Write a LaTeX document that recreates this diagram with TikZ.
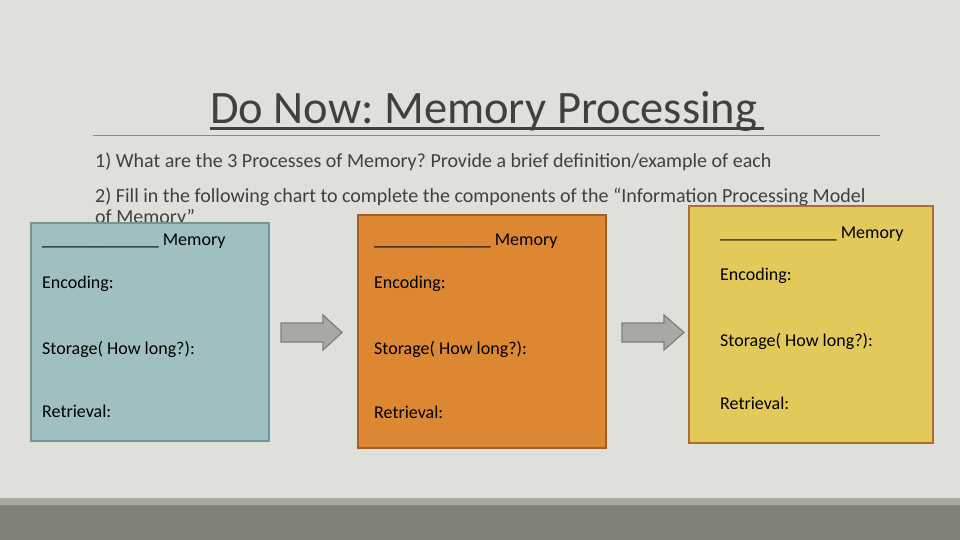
\documentclass[tikz,border=0pt]{standalone}
\usepackage{fontspec}
\setmainfont{Carlito}
\frenchspacing
\definecolor{bg}{RGB}{224,224,218}
\definecolor{bandlight}{RGB}{170,170,165}
\definecolor{banddark}{RGB}{128,130,122}
\definecolor{titlecol}{RGB}{64,64,64}
\definecolor{rulecol}{RGB}{140,140,135}
\definecolor{tealfill}{RGB}{159,191,192}
\definecolor{tealline}{RGB}{118,148,150}
\definecolor{orangefill}{RGB}{221,135,50}
\definecolor{orangeline}{RGB}{160,95,40}
\definecolor{yellowfill}{RGB}{227,201,90}
\definecolor{yellowline}{RGB}{170,110,50}
\definecolor{arrowfill}{RGB}{168,168,165}
\definecolor{arrowline}{RGB}{125,125,125}
\tikzset{
  bodytext/.style={anchor=base west, inner sep=0pt, text=titlecol, font=\fontsize{20}{24}\selectfont},
  boxtext/.style={anchor=base west, inner sep=0pt, text=black, font=\fontsize{18}{21}\selectfont},
  memorybox/.style={line width=2pt},
  blockarrow/.style={fill=arrowfill, draw=arrowline, line width=1.2pt, line join=miter}
}
\begin{document}
\begin{tikzpicture}[x=1pt,y=-1pt]
\useasboundingbox (0,0) rectangle (960,540);
\fill[bg] (0,0) rectangle (960,540);
\fill[bandlight] (0,498) rectangle (960,540);
\fill[banddark] (0,505) rectangle (960,540);
% title
\node[anchor=base west, inner sep=0pt, text=titlecol, font=\fontsize{46.5}{50}\selectfont] (title) at (210,124) {Do Now: Memory Processing};
\draw[titlecol, line width=3pt] (210,128.5) -- (764,128.5);
\draw[rulecol, line width=1pt] (93,136) -- (880,136);
% questions
\node[bodytext] (q1) at (95,167.5) {1) What are the 3 Processes of Memory? Provide a brief definition/example of each};
\node[bodytext] (q2) at (95,202.5) {2) Fill in the following chart to complete the components of the “Information Processing Model};
\node[bodytext] (q2b) at (95,223) {of Memory”};
% boxes
\draw[memorybox, fill=tealfill, draw=tealline] (31,223) rectangle (269,441);
\draw[memorybox, fill=orangefill, draw=orangeline] (358,215) rectangle (606,448);
\draw[memorybox, fill=yellowfill, draw=yellowline] (689,206) rectangle (933,443);
% box 1
\node[boxtext] (m1) at (42,245) {\_\_\_\_\_\_\_\_\_\_\_\_\_ Memory};
\node[boxtext] (e1) at (42,288) {Encoding:};
\node[boxtext] (s1) at (42,354) {Storage( How long?):};
\node[boxtext] (r1) at (42,417) {Retrieval:};
% box 2
\node[boxtext] (m2) at (374,245) {\_\_\_\_\_\_\_\_\_\_\_\_\_ Memory};
\node[boxtext] (e2) at (374,288) {Encoding:};
\node[boxtext] (s2) at (374,354) {Storage( How long?):};
\node[boxtext] (r2) at (374,418) {Retrieval:};
% box 3
\node[boxtext] (m3) at (720,238) {\_\_\_\_\_\_\_\_\_\_\_\_\_ Memory};
\node[boxtext] (e3) at (720,280) {Encoding:};
\node[boxtext] (s3) at (720,346) {Storage( How long?):};
\node[boxtext] (r3) at (720,409) {Retrieval:};
% arrows
\draw[blockarrow] (281,323) -- (323,323) -- (323,315) -- (342,332.5) -- (323,350) -- (323,342) -- (281,342) -- cycle;
\draw[blockarrow] (622,323) -- (664,323) -- (664,315) -- (684,332.5) -- (664,350) -- (664,342) -- (622,342) -- cycle;
\end{tikzpicture}
\end{document}
